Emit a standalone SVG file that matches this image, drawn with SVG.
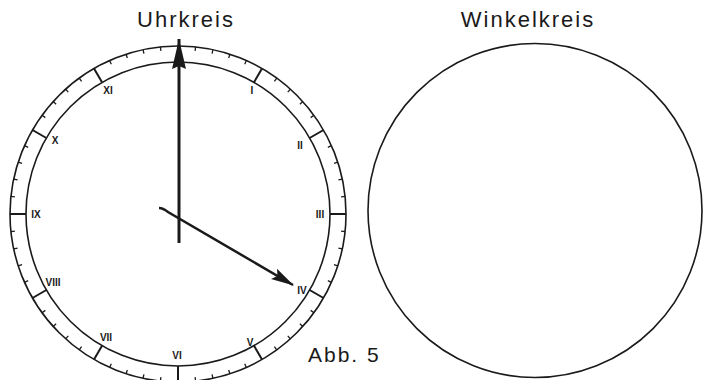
<svg xmlns="http://www.w3.org/2000/svg" width="703" height="380" viewBox="0 0 703 380">
<style>
.ring{fill:none;stroke:#1a1a1a;stroke-width:1.6}
.ht{stroke:#1a1a1a;stroke-width:2}
.mt{stroke:#1a1a1a;stroke-width:1.3}
.title{font-family:"Liberation Sans",Arial,sans-serif;font-size:22px;fill:#1a1a1a;letter-spacing:2px}
.num{font-family:"Liberation Sans",Arial,sans-serif;font-size:10px;font-weight:bold;fill:#1a1a1a;text-anchor:middle}
.hand{stroke:#1a1a1a;fill:none}
</style>
<defs>
<line id="mtick" class="mt" x1="178" y1="46" x2="178" y2="50"/>
<line id="htick" class="ht" x1="178" y1="46" x2="178" y2="62"/>
<marker id="bigHead" markerUnits="userSpaceOnUse" markerWidth="32" markerHeight="16" viewBox="0 0 32 16" refX="31" refY="8" orient="auto">
<path d="M31 8 L1 1 L4 8 L1 15 Z" fill="#1a1a1a"/>
</marker>
<marker id="smallHead" markerUnits="userSpaceOnUse" markerWidth="24" markerHeight="14" viewBox="0 0 24 14" refX="22" refY="7" orient="auto">
<path d="M0 1 L23 7 L0 13 L4 7 Z" fill="#1a1a1a"/>
</marker>
</defs>
<text class="title" x="186" y="27" text-anchor="middle">Uhrkreis</text>
<text class="title" x="528" y="27" text-anchor="middle">Winkelkreis</text>
<text class="title" x="308" y="362" style="font-size:21px">Abb. 5</text>
<g id="uhrkreis">
<circle class="ring" cx="178" cy="214" r="168"/>
<circle class="ring" cx="178" cy="214" r="152"/>
<g id="hour-ticks">
<use href="#htick"/>
<use href="#htick" transform="rotate(30 178 214)"/>
<use href="#htick" transform="rotate(60 178 214)"/>
<use href="#htick" transform="rotate(90 178 214)"/>
<use href="#htick" transform="rotate(120 178 214)"/>
<use href="#htick" transform="rotate(150 178 214)"/>
<use href="#htick" transform="rotate(180 178 214)"/>
<use href="#htick" transform="rotate(210 178 214)"/>
<use href="#htick" transform="rotate(240 178 214)"/>
<use href="#htick" transform="rotate(270 178 214)"/>
<use href="#htick" transform="rotate(300 178 214)"/>
<use href="#htick" transform="rotate(330 178 214)"/>
</g>
<g id="minute-ticks">
<use href="#mtick" transform="rotate(6 178 214)"/><use href="#mtick" transform="rotate(12 178 214)"/><use href="#mtick" transform="rotate(18 178 214)"/><use href="#mtick" transform="rotate(24 178 214)"/>
<use href="#mtick" transform="rotate(36 178 214)"/><use href="#mtick" transform="rotate(42 178 214)"/><use href="#mtick" transform="rotate(48 178 214)"/><use href="#mtick" transform="rotate(54 178 214)"/>
<use href="#mtick" transform="rotate(66 178 214)"/><use href="#mtick" transform="rotate(72 178 214)"/><use href="#mtick" transform="rotate(78 178 214)"/><use href="#mtick" transform="rotate(84 178 214)"/>
<use href="#mtick" transform="rotate(96 178 214)"/><use href="#mtick" transform="rotate(102 178 214)"/><use href="#mtick" transform="rotate(108 178 214)"/><use href="#mtick" transform="rotate(114 178 214)"/>
<use href="#mtick" transform="rotate(126 178 214)"/><use href="#mtick" transform="rotate(132 178 214)"/><use href="#mtick" transform="rotate(138 178 214)"/><use href="#mtick" transform="rotate(144 178 214)"/>
<use href="#mtick" transform="rotate(156 178 214)"/><use href="#mtick" transform="rotate(162 178 214)"/><use href="#mtick" transform="rotate(168 178 214)"/><use href="#mtick" transform="rotate(174 178 214)"/>
<use href="#mtick" transform="rotate(186 178 214)"/><use href="#mtick" transform="rotate(192 178 214)"/><use href="#mtick" transform="rotate(198 178 214)"/><use href="#mtick" transform="rotate(204 178 214)"/>
<use href="#mtick" transform="rotate(216 178 214)"/><use href="#mtick" transform="rotate(222 178 214)"/><use href="#mtick" transform="rotate(228 178 214)"/><use href="#mtick" transform="rotate(234 178 214)"/>
<use href="#mtick" transform="rotate(246 178 214)"/><use href="#mtick" transform="rotate(252 178 214)"/><use href="#mtick" transform="rotate(258 178 214)"/><use href="#mtick" transform="rotate(264 178 214)"/>
<use href="#mtick" transform="rotate(276 178 214)"/><use href="#mtick" transform="rotate(282 178 214)"/><use href="#mtick" transform="rotate(288 178 214)"/><use href="#mtick" transform="rotate(294 178 214)"/>
<use href="#mtick" transform="rotate(306 178 214)"/><use href="#mtick" transform="rotate(312 178 214)"/><use href="#mtick" transform="rotate(318 178 214)"/><use href="#mtick" transform="rotate(324 178 214)"/>
<use href="#mtick" transform="rotate(336 178 214)"/><use href="#mtick" transform="rotate(342 178 214)"/><use href="#mtick" transform="rotate(348 178 214)"/><use href="#mtick" transform="rotate(354 178 214)"/>
</g>
<g id="numerals">
<text class="num" x="252" y="94">I</text>
<text class="num" x="300" y="149">II</text>
<text class="num" x="320" y="218">III</text>
<text class="num" x="302" y="294">IV</text>
<text class="num" x="250" y="346">V</text>
<text class="num" x="177" y="359">VI</text>
<text class="num" x="106" y="341">VII</text>
<text class="num" x="53" y="286">VIII</text>
<text class="num" x="36" y="218">IX</text>
<text class="num" x="55" y="144">X</text>
<text class="num" x="108" y="94">XI</text>
</g>
</g>
<g id="winkelkreis">
<circle class="ring" cx="535" cy="210.5" r="167"/>
</g>
<g id="connectors">
<line class="hand" x1="179" y1="243" x2="179" y2="39" stroke-width="3" marker-end="url(#bigHead)"/>
<path class="hand" d="M159 208 Q163 208 168 212 L293 285" stroke-width="2.5" marker-end="url(#smallHead)"/>
</g>
</svg>
